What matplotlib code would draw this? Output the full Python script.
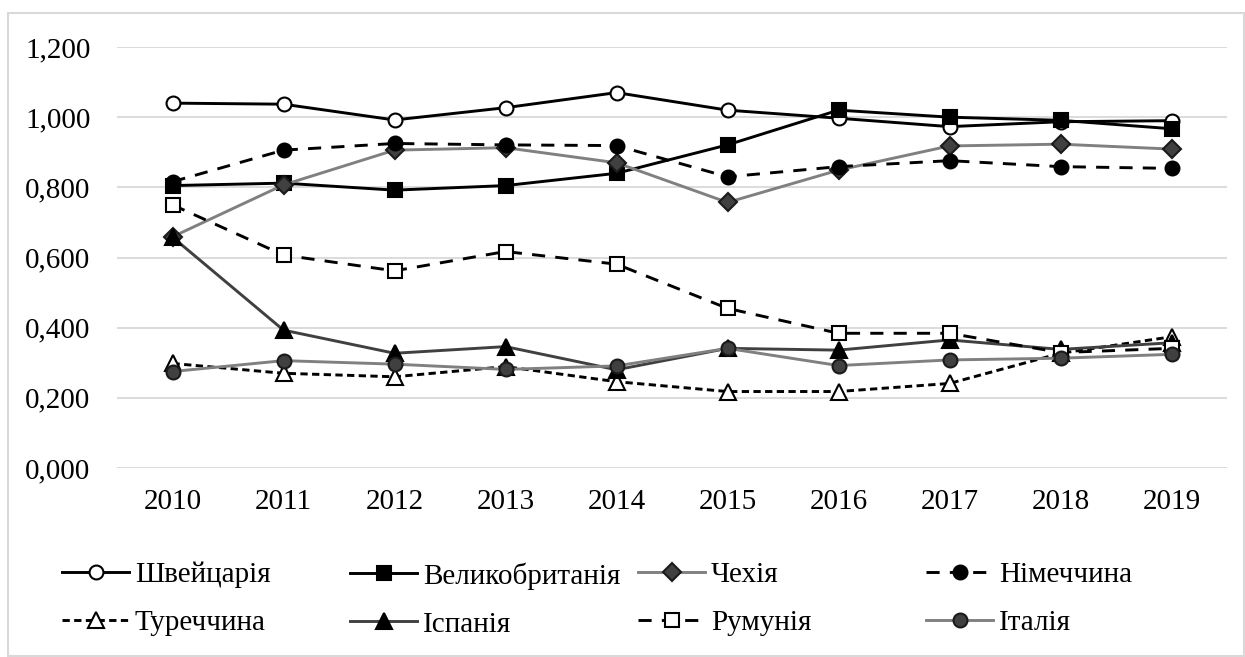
import matplotlib.pyplot as plt
from matplotlib.patches import Rectangle

years = ['2010', '2011', '2012', '2013', '2014', '2015', '2016', '2017', '2018', '2019']
switzerland = [1.040, 1.037, 0.992, 1.027, 1.070, 1.020, 0.997, 0.973, 0.987, 0.990]
uk = [0.805, 0.812, 0.792, 0.805, 0.840, 0.921, 1.020, 1.000, 0.991, 0.967]
czechia = [0.659, 0.807, 0.906, 0.913, 0.870, 0.757, 0.849, 0.918, 0.923, 0.909]
germany = [0.816, 0.906, 0.925, 0.921, 0.919, 0.830, 0.859, 0.876, 0.859, 0.854]
turkey = [0.298, 0.270, 0.260, 0.289, 0.246, 0.218, 0.218, 0.241, 0.327, 0.374]
spain = [0.658, 0.393, 0.327, 0.346, 0.280, 0.341, 0.336, 0.365, 0.338, 0.357]
romania = [0.750, 0.607, 0.562, 0.617, 0.581, 0.455, 0.384, 0.384, 0.329, 0.341]
italy = [0.275, 0.306, 0.296, 0.281, 0.291, 0.341, 0.292, 0.308, 0.313, 0.324]

W, H = 1245, 657
FS = 21
plt.rcParams['font.family'] = ['Liberation Serif', 'DejaVu Serif']
plt.rcParams['font.size'] = FS

fig = plt.figure(figsize=(W / 100, H / 100), dpi=100)
fig.patches.append(Rectangle((8 / W, 1 / H), 1236 / W, (H - 14) / H, transform=fig.transFigure,
                             fill=False, edgecolor='#d9d9d9', linewidth=1.5))
ax = fig.add_axes([117 / W, 1 - 468 / H, 1110 / W, 421 / H])

x = range(len(years))
long_dash = (4.5, 3.5)
short_dash = (2.5, 1.5)

series = [
    ('Швейцарія', switzerland, dict(color='black', marker='o', mfc='white', mec='black', ms=10)),
    ('Великобританія', uk, dict(color='black', marker='s', mfc='black', mec='black', ms=9.5)),
    ('Чехія', czechia, dict(color='#808080', marker='D', mfc='#404040', mec='#1a1a1a', ms=9)),
    ('Німеччина', germany, dict(color='black', marker='o', mfc='black', mec='black', ms=10, dashes=long_dash)),
    ('Туреччина', turkey, dict(color='black', marker='^', mfc='white', mec='black', ms=11.5, dashes=short_dash)),
    ('Іспанія', spain, dict(color='#404040', marker='^', mfc='black', mec='black', ms=11.5)),
    ('Румунія', romania, dict(color='black', marker='s', mfc='white', mec='black', ms=9.5, dashes=long_dash)),
    ('Італія', italy, dict(color='#808080', marker='o', mfc='#404040', mec='#1a1a1a', ms=10)),
]

handles = {}
for name, vals, style in series:
    line, = ax.plot(x, vals, lw=2.1, mew=1.5, label=name, **style)
    handles[name] = line

ax.set_xlim(-0.5, len(years) - 0.5)
ax.set_ylim(0, 1.2)
ax.set_xticks(list(x))
ax.set_xticklabels(years)
ax.set_yticks([0, 0.2, 0.4, 0.6, 0.8, 1.0, 1.2])
ax.set_yticklabels(['0,000', '0,200', '0,400', '0,600', '0,800', '1,000', '1,200'])
ax.tick_params(length=0, pad=15, labelsize=FS)
ax.tick_params(axis='y', pad=19)
for s in ax.spines.values():
    s.set_visible(False)
ax.set_axisbelow(True)
ax.grid(axis='y', color='#d9d9d9', linewidth=1.3)

# legend: four equal-width columns like the original
columns = [
    (62, ['Швейцарія', 'Туреччина']),
    (350, ['Великобританія', 'Іспанія']),
    (638, ['Чехія', 'Румунія']),
    (926, ['Німеччина', 'Італія']),
]
for xpos, names in columns:
    fig.legend([handles[n] for n in names], names, loc='upper left',
               bbox_to_anchor=(xpos / W, 1 - 562 / H), frameon=False,
               borderpad=0, borderaxespad=0, handlelength=2.3, handletextpad=0.2,
               labelspacing=0.74, fontsize=FS)

fig.savefig('out.png', dpi=100)
